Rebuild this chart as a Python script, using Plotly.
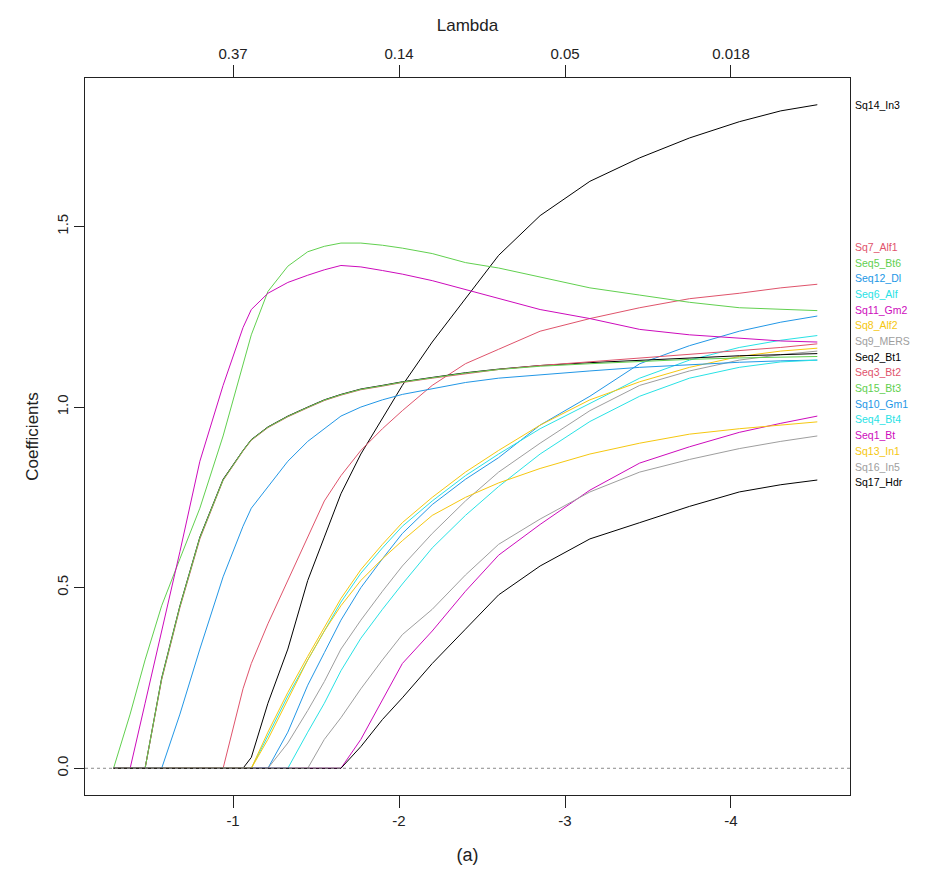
import plotly.graph_objects as go

# log(lambda) grid of the coefficient path
log_lambda = [-0.28, -0.38, -0.47, -0.57, -0.68, -0.80, -0.94, -1.06, -1.11, -1.21,
              -1.33, -1.45, -1.55, -1.65, -1.77, -1.90, -2.02, -2.20, -2.40, -2.60,
              -2.85, -3.15, -3.45, -3.75, -4.05, -4.30, -4.52]

# coefficient paths, in column order of the fitted model
Sq14_In3 = [0, 0, 0, 0, 0, 0, 0, 0, 0.03, 0.18, 0.33, 0.52, 0.64, 0.76, 0.87, 0.97, 1.06,
            1.18, 1.30, 1.42, 1.53, 1.625, 1.69, 1.745, 1.79, 1.82, 1.837]
Sq7_Alf1 = [0, 0, 0, 0, 0, 0, 0, 0.22, 0.29, 0.40, 0.52, 0.64, 0.74, 0.81, 0.88, 0.94, 0.99,
            1.06, 1.12, 1.16, 1.21, 1.245, 1.275, 1.30, 1.315, 1.33, 1.34]
Seq5_Bt6 = [0, 0.15, 0.30, 0.45, 0.58, 0.72, 0.92, 1.12, 1.20, 1.32, 1.39, 1.43, 1.445, 1.454,
            1.454, 1.448, 1.44, 1.425, 1.40, 1.385, 1.36, 1.33, 1.31, 1.29, 1.275, 1.27, 1.267]
Seq12_Dl = [0, 0, 0, 0, 0, 0, 0, 0, 0, 0, 0.10, 0.23, 0.32, 0.41, 0.50, 0.58, 0.65,
            0.73, 0.80, 0.86, 0.95, 1.03, 1.12, 1.17, 1.21, 1.235, 1.252]
Seq6_Alf = [0, 0, 0, 0, 0, 0, 0, 0, 0, 0.09, 0.20, 0.30, 0.38, 0.46, 0.54, 0.61, 0.67,
            0.74, 0.81, 0.87, 0.94, 1.01, 1.08, 1.13, 1.165, 1.185, 1.198]
Sq11_Gm2 = [0, 0, 0.18, 0.38, 0.60, 0.85, 1.06, 1.22, 1.27, 1.315, 1.345, 1.365, 1.38, 1.392,
            1.388, 1.378, 1.368, 1.35, 1.325, 1.30, 1.27, 1.245, 1.215, 1.20, 1.19, 1.183, 1.18]
Sq8_Alf2 = [0, 0, 0, 0, 0, 0, 0, 0, 0, 0.10, 0.21, 0.31, 0.39, 0.47, 0.55, 0.62, 0.68,
            0.75, 0.82, 0.88, 0.95, 1.02, 1.07, 1.11, 1.14, 1.155, 1.163]
Sq9_MERS = [0, 0, 0, 0, 0, 0, 0, 0, 0, 0, 0.07, 0.16, 0.24, 0.33, 0.41, 0.49, 0.56,
            0.65, 0.74, 0.82, 0.90, 0.99, 1.06, 1.10, 1.13, 1.145, 1.155]
Seq2_Bt1 = [0, 0, 0, 0.25, 0.45, 0.64, 0.80, 0.88, 0.91, 0.945, 0.975, 1.0, 1.02, 1.035,
            1.05, 1.06, 1.07, 1.082, 1.095, 1.105, 1.115, 1.123, 1.13, 1.137, 1.142, 1.145, 1.148]
Seq3_Bt2 = [0, 0, 0, 0.245, 0.445, 0.635, 0.797, 0.878, 0.908, 0.943, 0.973, 0.998, 1.018,
            1.033, 1.048, 1.058, 1.068, 1.08, 1.093, 1.104, 1.115, 1.125, 1.135, 1.145, 1.155,
            1.165, 1.175]
Sq15_Bt3 = [0, 0, 0, 0.248, 0.448, 0.638, 0.798, 0.879, 0.909, 0.944, 0.974, 0.999, 1.019,
            1.034, 1.049, 1.059, 1.069, 1.081, 1.094, 1.104, 1.113, 1.12, 1.127, 1.132, 1.136,
            1.138, 1.14]
Sq10_Gm1 = [0, 0, 0, 0, 0.15, 0.33, 0.53, 0.67, 0.72, 0.78, 0.85, 0.905, 0.94, 0.975, 1.0,
            1.02, 1.035, 1.05, 1.068, 1.08, 1.09, 1.10, 1.11, 1.118, 1.124, 1.128, 1.13]
Seq4_Bt4 = [0, 0, 0, 0, 0, 0, 0, 0, 0, 0, 0, 0.10, 0.18, 0.27, 0.36, 0.44, 0.51, 0.61,
            0.70, 0.78, 0.87, 0.96, 1.03, 1.08, 1.11, 1.125, 1.13]
Seq1_Bt = [0, 0, 0, 0, 0, 0, 0, 0, 0, 0, 0, 0, 0, 0, 0.08, 0.19, 0.29, 0.38, 0.49, 0.59,
           0.675, 0.77, 0.845, 0.89, 0.93, 0.955, 0.975]
Sq13_In1 = [0, 0, 0, 0, 0, 0, 0, 0, 0, 0.08, 0.19, 0.30, 0.38, 0.45, 0.52, 0.58, 0.63, 0.70,
            0.75, 0.79, 0.83, 0.87, 0.90, 0.925, 0.94, 0.95, 0.959]
Sq16_In5 = [0, 0, 0, 0, 0, 0, 0, 0, 0, 0, 0, 0, 0.08, 0.14, 0.22, 0.30, 0.37, 0.44, 0.535,
            0.62, 0.69, 0.765, 0.82, 0.855, 0.885, 0.905, 0.92]
Sq17_Hdr = [0, 0, 0, 0, 0, 0, 0, 0, 0, 0, 0, 0, 0, 0, 0.06, 0.135, 0.195, 0.29, 0.385, 0.48,
            0.56, 0.635, 0.68, 0.725, 0.765, 0.785, 0.798]

series = [
    ("Sq14_In3", Sq14_In3), ("Sq7_Alf1", Sq7_Alf1), ("Seq5_Bt6", Seq5_Bt6),
    ("Seq12_Dl", Seq12_Dl), ("Seq6_Alf", Seq6_Alf), ("Sq11_Gm2", Sq11_Gm2),
    ("Sq8_Alf2", Sq8_Alf2), ("Sq9_MERS", Sq9_MERS), ("Seq2_Bt1", Seq2_Bt1),
    ("Seq3_Bt2", Seq3_Bt2), ("Sq15_Bt3", Sq15_Bt3), ("Sq10_Gm1", Sq10_Gm1),
    ("Seq4_Bt4", Seq4_Bt4), ("Seq1_Bt", Seq1_Bt), ("Sq13_In1", Sq13_In1),
    ("Sq16_In5", Sq16_In5), ("Sq17_Hdr", Sq17_Hdr),
]

# bottom axis ticks (log lambda) and matching lambda labels on top
x_ticks = [-1, -2, -3, -4]
x_tick_text = ["-1", "-2", "-3", "-4"]
lambda_tick_text = ["0.37", "0.14", "0.05", "0.018"]
y_ticks = [0.0, 0.5, 1.0, 1.5]
y_tick_text = ["0.0", "0.5", "1.0", "1.5"]

palette = ["#000000", "#DF536B", "#61D04F", "#2297E6",
           "#28E2E5", "#CD0BBC", "#F5C710", "#9E9E9E"]

FONT = "Liberation Sans, Arial, sans-serif"
INK = "#222222"

fig = go.Figure()
for i, (name, vals) in enumerate(series):
    fig.add_trace(go.Scatter(
        x=log_lambda, y=vals, mode="lines", name=name,
        line=dict(color=palette[i % len(palette)], width=1),
        showlegend=False, hoverinfo="name+x+y",
    ))

# dotted reference line at zero
fig.add_shape(type="line", xref="paper", x0=0, x1=1, yref="y", y0=0, y1=0,
              line=dict(color="#8a8a8a", width=1, dash="dot"))

# variable names down the right-hand side
label_top = 1.443
label_step = 0.0434
for i, (name, vals) in enumerate(series):
    ypos = vals[-1] if i == 0 else label_top - (i - 1) * label_step
    fig.add_annotation(
        x=1, xref="paper", xanchor="left", xshift=3,
        y=ypos, yref="y", yanchor="middle",
        text=name, showarrow=False,
        font=dict(family=FONT, size=10.5, color=palette[i % len(palette)]),
    )

x_range = [-0.108, -4.717]
y_range = [-0.074, 1.911]

axis_common = dict(showgrid=False, zeroline=False, showline=True,
                   linecolor=INK, linewidth=1.3, ticks="outside",
                   tickcolor=INK, tickfont=dict(size=15))

fig.update_layout(
    width=931, height=876,
    margin=dict(l=85, r=81, t=78, b=81),
    paper_bgcolor="white", plot_bgcolor="white",
    font=dict(family=FONT, size=15, color=INK),
    xaxis=dict(
        range=x_range, tickvals=x_ticks, ticktext=x_tick_text, ticklen=12,
        title=dict(text="(a)", font=dict(size=18), standoff=20),
        **axis_common,
    ),
    xaxis2=dict(
        range=x_range, overlaying="x", side="top", anchor="y",
        tickvals=x_ticks, ticktext=lambda_tick_text, ticklen=12,
        title=dict(text="Lambda", font=dict(size=17), standoff=8),
        **axis_common,
    ),
    yaxis=dict(
        range=y_range, tickvals=y_ticks, ticktext=y_tick_text, tickangle=-90,
        ticklen=10, mirror=True,
        title=dict(text="Coefficients", font=dict(size=17), standoff=10),
        **axis_common,
    ),
)

# invisible trace so the top axis is drawn
fig.add_trace(go.Scatter(x=[x_ticks[0]], y=[0], xaxis="x2", mode="markers",
                         marker=dict(opacity=0), showlegend=False, hoverinfo="skip"))

fig.write_html("out.html")
